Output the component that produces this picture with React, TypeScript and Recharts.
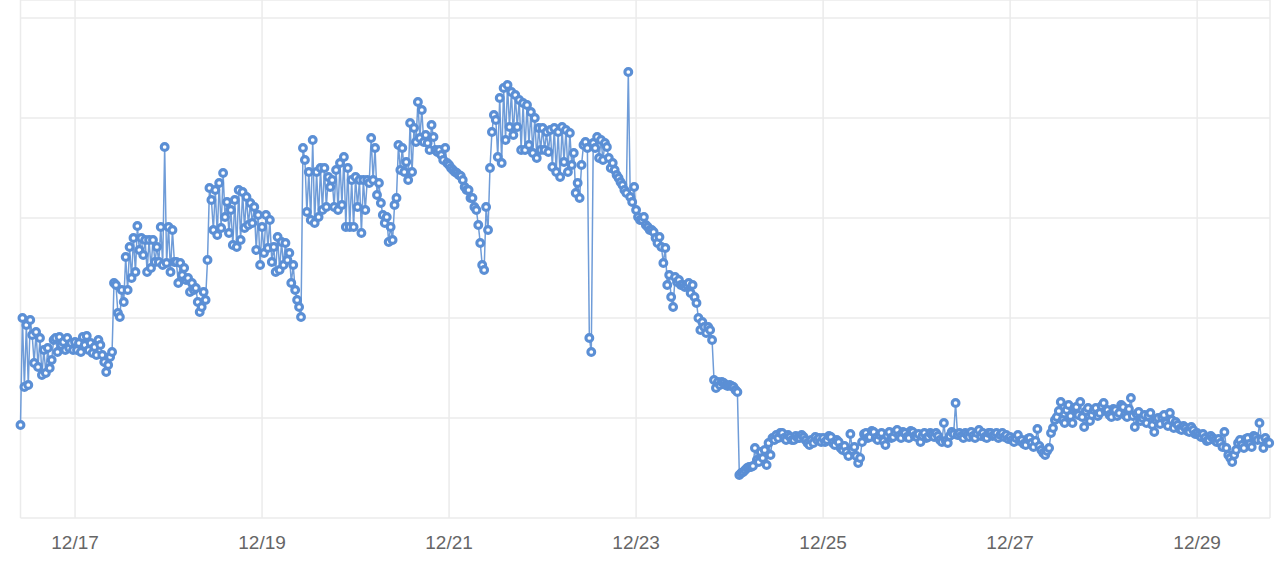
import { LineChart, Line, XAxis, YAxis, CartesianGrid } from "recharts";

// readings on the hour and at half past, one pair of arrays per day (12/16 starts at 10:00)
const dec16On = [18.6, 26.2, 26.6, 36.6, 37.2, 36, 33.6, 34, 31.6, 36, 36.2, 35.2, 36, 35];
const dec16Half = [40, 38.6, 39.6, 31, 30.2, 28.6, 29, 30, 35.6, 33.2, 34.6, 33.6, 34, 33.6];
const dec17On = [35.2, 35, 36.2, 36.4, 35, 34.2, 35.6, 32.6, 29.2, 32.2, 47, 41, 45.6, 52.2, 54.2, 56, 58.4, 56, 55.6, 55.6, 55.6, 54.2, 58.2, 74.2];
const dec17Half = [33.6, 33.2, 34.6, 33.6, 33, 32.6, 34.6, 31.2, 30.6, 33.2, 46.6, 40.2, 43.2, 45.6, 48, 49.2, 53.6, 52.6, 49.2, 50, 51.2, 51.2, 50.6, 51];
const dec18On = [58.2, 57.6, 51.2, 51, 50, 48, 47, 46, 41.2, 45.2, 51.6, 63.6, 65.6, 67, 69, 63.2, 61.6, 63.6, 65.6, 65.2, 64.2, 63, 62.2, 60.6];
const dec18Half = [49.2, 51.2, 47, 48.6, 47.6, 45.2, 45.6, 43.2, 42.2, 43.6, 66, 57.6, 56.6, 58, 60.2, 57, 54.6, 54.2, 55.6, 58, 58.6, 59, 53.6, 50.6];
const dec19On = [58.2, 60.6, 59.6, 54.2, 56.2, 55.2, 55, 53, 50.6, 43.6, 40.2, 71.6, 69.2, 75.6, 69.2, 70, 70, 68.2, 67.6, 69.6, 71, 72.2, 70, 67.6];
const dec19Half = [53, 54, 51.2, 49.2, 49.6, 50.6, 51.6, 47, 45.6, 42.2, 74, 61.2, 59.6, 59, 60.2, 61.6, 62.2, 66.2, 62.2, 61.6, 62.6, 58.2, 58.2, 58.2];
const dec20On = [68.2, 67.6, 67.6, 67.6, 76, 74, 67, 60.6, 60.2, 58.2, 62.6, 74.6, 74, 71.2, 79, 78, 83.2, 81.6, 76.6, 73.6, 76.2, 73.2, 72.6, 74];
const dec20Half = [62.2, 57, 61.6, 67, 67.6, 64.6, 63, 59, 55.2, 55.6, 64, 69.6, 69.2, 67.6, 69.2, 75.2, 76, 75.2, 75, 78.6, 73.6, 73.6, 71.6, 71];
const dec21On = [70.6, 69.6, 69, 68.4, 66.2, 65.6, 64, 61.6, 55, 49.6, 57.6, 77.2, 79.6, 84, 86, 86.6, 85.2, 84.6, 83.6, 83, 82.6, 81.2, 80, 78];
const dec21Half = [70, 69.2, 68.6, 67.6, 65.6, 64, 62.2, 58.6, 50.6, 62.2, 70, 80.6, 72.2, 71, 75.6, 78.2, 76.6, 78.2, 73.6, 73.6, 74.6, 73, 72, 73.6];
const dec22On = [78, 77.2, 77.6, 78, 77.2, 78.2, 77.6, 77, 73, 67, 70.6, 75.2, 36, 75, 76.2, 75.6, 75, 72, 71, 68.6, 67.2, 65.6, 89.2, 63.2];
const dec22Half = [73.6, 73.2, 70.2, 69.2, 68.2, 71.2, 69.2, 70.6, 65, 64, 74.6, 74, 33.2, 74, 72, 71.6, 74.2, 70, 69.6, 68, 66.6, 65, 64.2, 66.2];
const dec23On = [61.6, 59.6, 60.2, 58.2, 57.6, 56, 56.2, 51, 46.6, 44.2, 48.2, 47.6, 46.6, 46.6, 45, 44.2, 40, 39.2, 37, 37.6, 27.6, 27.2, 27.2, 26.6];
const dec23Half = [60.2, 59.6, 58.6, 57.6, 57.2, 55, 54.2, 54, 48.6, 42.2, 47.2, 46.6, 46.2, 47, 46.6, 43, 37.6, 38.2, 38.2, 35.6, 26, 26.6, 27, 26.4];
const dec24On = [26.6, 26.2, 25.2, 9, 9.6, 10.2, 10.4, 11.6, 13.2, 13.6, 15, 16, 16.6, 17, 16, 16.6, 15.6, 16.4, 16, 16.2, 15, 15.6, 16.2, 16];
const dec24Half = [26.4, 25.6, 8.6, 9.2, 10, 10.2, 14, 11.2, 12, 10.6, 12.6, 15.6, 16, 17, 15.6, 16.2, 15.6, 16, 16.6, 15.6, 14.6, 15, 15.6, 15.2];
const dec25On = [16, 15.6, 16.2, 14.6, 15.2, 13.6, 13.2, 16.8, 14.2, 11, 15.2, 17, 16.2, 17.2, 15.6, 17, 14.6, 17.2, 16.2, 17.6, 16, 17, 16, 17.2];
const dec25Half = [15.2, 16.4, 15, 15.6, 14, 14.4, 12.4, 13.6, 12.4, 12, 16.8, 16, 17.4, 16, 16.6, 15.4, 16.4, 16, 17.2, 16.4, 17.2, 16.2, 17.4, 16.4];
const dec26On = [16.2, 15.2, 17, 16.2, 16.6, 17, 15.6, 19, 15, 17.2, 23, 17, 16, 16.6, 17.2, 16, 17.6, 17, 16, 17, 16.6, 16, 17, 16.6];
const dec26Half = [16.8, 16.4, 16, 17, 16.2, 16.4, 15.2, 15.4, 16.4, 16.8, 16.6, 16.4, 17, 16.2, 16.4, 17, 16.4, 16.2, 17, 16.4, 17, 16.6, 16.2, 15.8];
const dec27On = [16.2, 15.2, 16.6, 15.6, 14.6, 16, 14.2, 17.8, 13.6, 12.6, 14, 18, 20.2, 23.2, 19, 22.6, 19, 22.2, 23.2, 18.2, 22, 20.6, 22, 21];
const dec27Half = [15.6, 16, 15.4, 14.8, 15.8, 15, 15.4, 14.4, 13, 13.4, 17, 19.6, 21.4, 19.6, 21.6, 20.4, 22, 20.6, 20.2, 21.4, 19.4, 21.6, 20.4, 22.4];
const dec28On = [23, 21.6, 20.2, 21.6, 21, 22.2, 20.2, 24, 18.2, 21.2, 20, 19, 21, 17.2, 20, 20.2, 19, 21, 18, 18.6, 17.6, 18, 17.2, 17.6];
const dec28Half = [21.4, 20.6, 21.8, 20.4, 22.6, 20.6, 21.8, 20.4, 20.8, 19.4, 20.6, 20.4, 18.6, 19.6, 18.8, 20.6, 18.4, 19.6, 19.2, 17.8, 18.4, 17.4, 18.2, 16.8];
const dec29On = [17, 16.2, 16, 15.6, 16, 15.2, 15, 17.2, 12.6, 11.2, 13.6, 15.6, 14, 16, 14.2, 16.2, 19, 14, 15.2];
const dec29Half = [16.6, 16.8, 15.4, 16.4, 15.6, 15.8, 14.2, 14, 12, 12.6, 15, 14.6, 15.8, 14.8, 16.4, 15.6, 15.6, 16, 15];

const days = [
  [dec16On, dec16Half], [dec17On, dec17Half], [dec18On, dec18Half], [dec19On, dec19Half],
  [dec20On, dec20Half], [dec21On, dec21Half], [dec22On, dec22Half], [dec23On, dec23Half],
  [dec24On, dec24Half], [dec25On, dec25Half], [dec26On, dec26Half], [dec27On, dec27Half],
  [dec28On, dec28Half], [dec29On, dec29Half],
];
const dateTicks = [24, 72, 120, 168, 216, 264, 312];
const valueTicks = [0, 20, 40, 60, 80, 100];

const data: { hour: number; value: number }[] = [];
days.forEach(([on, half], d) => {
  const first = d === 0 ? 24 - on.length : 0;
  on.forEach((v, i) => {
    const h = d * 24 + first + i;
    data.push({ hour: h, value: v });
    data.push({ hour: h + 0.5, value: half[i] });
  });
});

const color = "#5b8fd5";

export default function App() {
  return (
    <div style={{ position: "fixed", left: 0, top: 0, background: "#fff" }}>
      <LineChart
        width={1280}
        height={580}
        data={data}
        margin={{ top: 0, right: 10, left: 20.5, bottom: 22 }}
      >
        <CartesianGrid stroke="#ebebeb" strokeWidth={1.5} />
        <XAxis
          dataKey="hour"
          type="number"
          domain={[10, 330.7]}
          ticks={dateTicks}
          height={40}
          axisLine={false}
          tickLine={false}
          tickMargin={12}
          tick={{ fill: "#666", fontSize: 19, fontFamily: "Liberation Sans, Arial, sans-serif" }}
          tickFormatter={(h) => `12/${16 + Math.floor(h / 24)}`}
        />
        <YAxis hide type="number" domain={[0, 103.6]} ticks={valueTicks} />
        <Line
          type="linear"
          dataKey="value"
          stroke="#6f9cd8"
          strokeWidth={1.5}
          dot={{ r: 3.4, strokeWidth: 3.1, fill: "#fff", stroke: color }}
          isAnimationActive={false}
        />
      </LineChart>
    </div>
  );
}
